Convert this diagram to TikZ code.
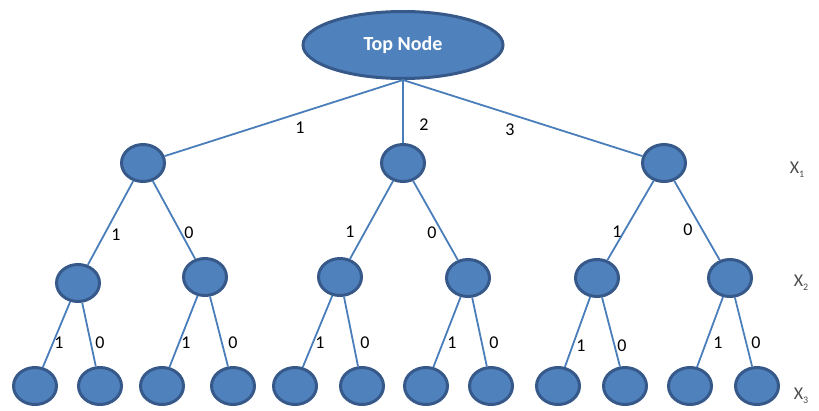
\documentclass[tikz,border=0pt]{standalone}
\usepackage{fontspec}
\setmainfont{Carlito}
\usetikzlibrary{shapes.geometric}
\definecolor{node blue}{HTML}{4F81BD}
\definecolor{node border}{HTML}{36598A}
\definecolor{edge blue}{HTML}{4A7EBB}
\colorlet{level gray}{black!70}
\tikzset{branch/.style={edge blue, line width=1.8pt}}
\tikzset{treenode/.style={ellipse, fill=node blue, draw=node border, line width=3pt, minimum width=43pt, minimum height=37pt, inner sep=0pt}}
\tikzset{topnode/.style={treenode, minimum width=200pt, minimum height=67pt, text=white, font=\fontsize{20}{24}\selectfont\bfseries}}
\tikzset{digit/.style={font=\fontsize{18}{22}\selectfont, inner sep=0pt}}
\tikzset{varlabel/.style={text=level gray, font=\fontsize{18}{21}\selectfont, inner sep=0pt}}
\newcommand{\xsub}[1]{X\raisebox{-4pt}{\fontsize{10}{10}\selectfont #1}}

\begin{document}
\begin{tikzpicture}[x=1pt, y=-1pt]
                \useasboundingbox (0, 0) rectangle (819, 410);
                % nodes
                \node[topnode] (top) at (403, 45) {Top Node};
                \node[treenode] (a) at (143, 163) {};
                \node[treenode] (b) at (403, 163) {};
                \node[treenode] (c) at (664, 163) {};
                \node[treenode] (aa) at (78, 283) {};
                \node[treenode] (ab) at (205, 277) {};
                \node[treenode] (ba) at (340, 277) {};
                \node[treenode] (bb) at (468, 278) {};
                \node[treenode] (ca) at (597, 278) {};
                \node[treenode] (cb) at (730, 278) {};
                \node[treenode] (aaa) at (35, 386) {};
                \node[treenode] (aab) at (100, 386) {};
                \node[treenode] (aba) at (162, 386) {};
                \node[treenode] (abb) at (233, 386) {};
                \node[treenode] (baa) at (295, 386) {};
                \node[treenode] (bab) at (362, 386) {};
                \node[treenode] (bba) at (426, 386) {};
                \node[treenode] (bbb) at (491, 386) {};
                \node[treenode] (caa) at (558, 386) {};
                \node[treenode] (cab) at (625, 386) {};
                \node[treenode] (cba) at (690, 386) {};
                \node[treenode] (cbb) at (757, 386) {};
                % branches
                \draw[branch] (top.south) -- (a);
                \draw[branch, line width=2.8pt] (top.south) -- (b);
                \draw[branch] (top.south) -- (c);
                \draw[branch] (a) -- (aa);
                \draw[branch] (a) -- (ab);
                \draw[branch] (b) -- (ba);
                \draw[branch] (b) -- (bb);
                \draw[branch] (c) -- (ca);
                \draw[branch] (c) -- (cb);
                \draw[branch] (aa) -- (aaa);
                \draw[branch] (aa) -- (aab);
                \draw[branch] (ab) -- (aba);
                \draw[branch] (ab) -- (abb);
                \draw[branch] (ba) -- (baa);
                \draw[branch] (ba) -- (bab);
                \draw[branch] (bb) -- (bba);
                \draw[branch] (bb) -- (bbb);
                \draw[branch] (ca) -- (caa);
                \draw[branch] (ca) -- (cab);
                \draw[branch] (cb) -- (cba);
                \draw[branch] (cb) -- (cbb);
                % branch labels
                \node[digit] (d1) at (300, 128) {1};
                \node[digit] (d2) at (424, 125) {2};
                \node[digit] (d3) at (510, 130) {3};
                \node[digit] (da1) at (116, 235) {1};
                \node[digit] (da0) at (189, 233) {0};
                \node[digit] (db1) at (350, 232) {1};
                \node[digit] (db0) at (432, 233) {0};
                \node[digit] (dc1) at (617, 232) {1};
                \node[digit] (dc0) at (688, 230) {0};
                \node[digit] (daa1) at (59, 343) {1};
                \node[digit] (daa0) at (100, 343) {0};
                \node[digit] (dab1) at (186, 343) {1};
                \node[digit] (dab0) at (233, 343) {0};
                \node[digit] (dba1) at (320, 343) {1};
                \node[digit] (dba0) at (365, 343) {0};
                \node[digit] (dbb1) at (452, 343) {1};
                \node[digit] (dbb0) at (494, 343) {0};
                \node[digit] (dca1) at (581, 346) {1};
                \node[digit] (dca0) at (622, 346) {0};
                \node[digit] (dcb1) at (718, 343) {1};
                \node[digit] (dcb0) at (756, 343) {0};
                % levels
                \node[varlabel] (x1) at (797, 170) {\xsub{1}};
                \node[varlabel] (x2) at (801, 283) {\xsub{2}};
                \node[varlabel] (x3) at (801, 396) {\xsub{3}};
            \end{tikzpicture}
\end{document}
